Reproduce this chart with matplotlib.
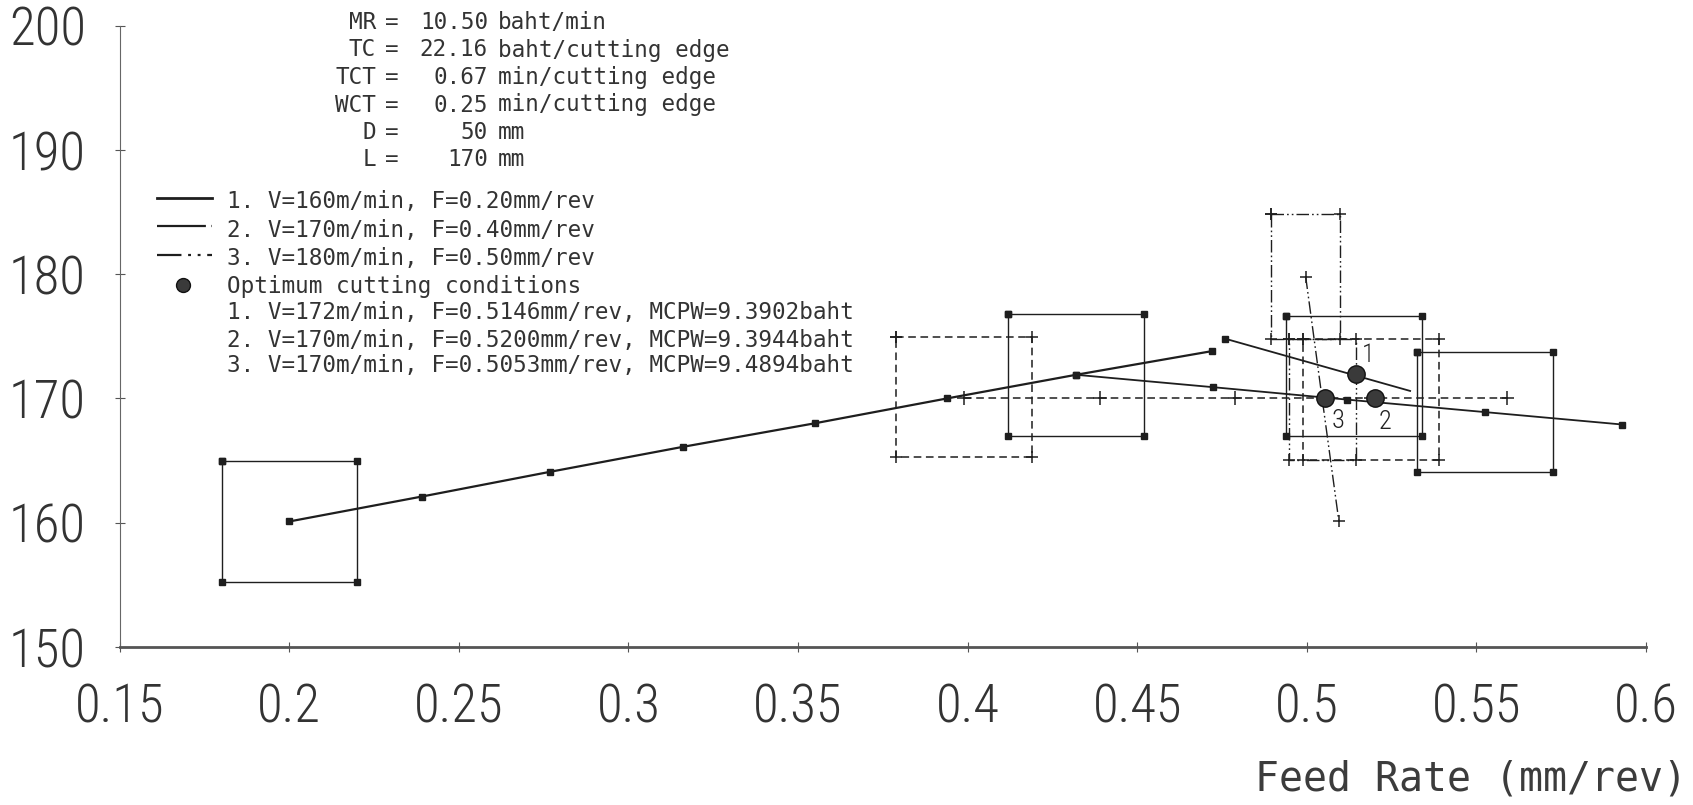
import os
import matplotlib
matplotlib.use('Agg')
import matplotlib.pyplot as plt
from matplotlib import font_manager
from matplotlib.font_manager import FontProperties
from matplotlib.lines import Line2D

# ---------------- data ----------------
x_ticks = [0.15, 0.2, 0.25, 0.3, 0.35, 0.4, 0.45, 0.5, 0.55, 0.6]
x_tick_labels = ['0.15', '0.2', '0.25', '0.3', '0.35', '0.4', '0.45', '0.5', '0.55', '0.6']
y_ticks = [150, 160, 170, 180, 190, 200]
y_tick_labels = ['150', '160', '170', '180', '190', '200']
x_label = 'Feed Rate (mm/rev)'

# series 1 (solid): search paths and 2x2 design boxes
s1_path_F = [0.200, 0.239, 0.277, 0.316, 0.355, 0.394, 0.432, 0.472]
s1_path_V = [160.1, 162.1, 164.1, 166.1, 168.0, 170.0, 171.9, 173.8]
s1_path2_F = [0.432, 0.4725, 0.512, 0.5525, 0.593]
s1_path2_V = [171.9, 170.9, 169.9, 168.9, 167.9]
s1_path3_F = [0.476, 0.5305]
s1_path3_V = [174.8, 170.6]
s1_box_F = [0.200, 0.432, 0.514, 0.5525]
s1_box_V = [160.1, 171.9, 171.8, 168.9]
s1_box_dF = [0.020, 0.020, 0.020, 0.020]
s1_box_dV = [4.9, 4.9, 4.85, 4.85]

# series 2 (dashed)
s2_path_F = [0.399, 0.439, 0.479, 0.519, 0.559]
s2_path_V = [170.0, 170.0, 170.0, 170.0, 170.0]
s2_box_F = [0.399, 0.519]
s2_box_V = [170.1, 169.9]
s2_box_dF = [0.020, 0.020]
s2_box_dV = [4.85, 4.85]

# series 3 (dash-dot-dot)
s3_path_F = [0.4997, 0.5046, 0.5095]
s3_path_V = [179.8, 169.9, 160.1]
s3_box_F = [0.4996, 0.5046]
s3_box_V = [179.8, 169.9]
s3_box_dF = [0.0102, 0.0099]
s3_box_dV = [5.0, 4.85]

# optimum cutting conditions
opt_F = [0.5146, 0.5200, 0.5053]
opt_V = [172, 170, 170]
opt_labels = ['1', '2', '3']

const_names = ['MR', 'TC', 'TCT', 'WCT', 'D', 'L']
const_values = ['10.50', '22.16', '0.67', '0.25', '50', '170']
const_units = ['baht/min', 'baht/cutting edge', 'min/cutting edge',
               'min/cutting edge', 'mm', 'mm']

legend_series = ['1. V=160m/min, F=0.20mm/rev',
                 '2. V=170m/min, F=0.40mm/rev',
                 '3. V=180m/min, F=0.50mm/rev']
legend_opt_title = 'Optimum cutting conditions'
legend_opt_lines = ['1. V=172m/min, F=0.5146mm/rev, MCPW=9.3902baht',
                    '2. V=170m/min, F=0.5200mm/rev, MCPW=9.3944baht',
                    '3. V=170m/min, F=0.5053mm/rev, MCPW=9.4894baht']

# ---------------- styles ----------------
W, H = 1693, 805
INK = '#1e1e1e'
TXT = '#333333'


def find_font(subs):
    for sub in subs:
        for f in font_manager.fontManager.ttflist:
            if os.path.basename(f.fname).lower().startswith(sub.lower()):
                return f.fname
    return None


narrow_path = find_font(['NotoSans-ExtraCondensedLight.', 'NotoSans-CondensedLight.',
                         'RobotoCondensed-Light.', 'LiberationSansNarrow-Regular.',
                         'NotoSans-ExtraCondensed.', 'NotoSans-Condensed.'])
if narrow_path:
    TICK_FP = FontProperties(fname=narrow_path, size=38)
    NUM_FP = FontProperties(fname=narrow_path, size=19)
else:
    TICK_FP = FontProperties(family='DejaVu Sans', stretch='condensed', size=33)
    NUM_FP = FontProperties(family='DejaVu Sans', stretch='condensed', size=17)
MONO = dict(family='DejaVu Sans Mono')
SMALL = 16.3

S2_DASH = (0, (5.0, 3.0))
S3_DASH = (0, (9.0, 2.2, 1.2, 2.2, 1.2, 2.2))


def fx(x):
    return x / W


def fy(y):
    return 1 - y / H


fig = plt.figure(figsize=(W / 100, H / 100), dpi=100)
fig.patch.set_facecolor('white')
ax = fig.add_axes([fx(119.8), fy(647.0), (1645.8 - 119.8) / W, (647.0 - 25.5) / H])
ax.set_xlim(0.15, 0.6)
ax.set_ylim(150, 200)
ax.set_facecolor('white')
for s in ['top', 'right']:
    ax.spines[s].set_visible(False)
ax.spines['left'].set_color('#666666')
ax.spines['left'].set_linewidth(0.8)
ax.spines['bottom'].set_color('#555555')
ax.spines['bottom'].set_linewidth(2.0)

ax.set_xticks(x_ticks)
ax.set_xticklabels(x_tick_labels)
ax.set_yticks(y_ticks)
ax.set_yticklabels(y_tick_labels)
ax.tick_params(axis='both', direction='inout', length=7, width=0.8, color='#555555')
ax.tick_params(axis='x', pad=22)
ax.tick_params(axis='y', pad=21)
for lab in ax.get_xticklabels() + ax.get_yticklabels():
    lab.set_fontproperties(TICK_FP)
    lab.set_color('#333333')


def draw_box(F, V, dF, dV, **kw):
    xs = [F - dF, F + dF, F + dF, F - dF, F - dF]
    ys = [V + dV, V + dV, V - dV, V - dV, V + dV]
    ax.plot(xs, ys, **kw)


# series 1
for F, V, dF, dV in zip(s1_box_F, s1_box_V, s1_box_dF, s1_box_dV):
    draw_box(F, V, dF, dV, color=INK, lw=1.0, marker='s', ms=4, zorder=3)
ax.plot(s1_path_F, s1_path_V, color=INK, lw=1.6, marker='s', ms=4, zorder=4)
ax.plot(s1_path2_F, s1_path2_V, color=INK, lw=1.3, marker='s', ms=4, zorder=4)
ax.plot(s1_path3_F, s1_path3_V, color=INK, lw=1.3, marker='s', ms=4,
        markevery=[0], zorder=4)

# series 2
for F, V, dF, dV in zip(s2_box_F, s2_box_V, s2_box_dF, s2_box_dV):
    draw_box(F, V, dF, dV, color=INK, lw=1.1, linestyle=S2_DASH,
             marker='+', ms=8, mew=1.1, zorder=3)
ax.plot(s2_path_F, s2_path_V, color=INK, lw=1.1, linestyle=S2_DASH,
        marker='+', ms=10, mew=1.1, zorder=4)

# series 3
for F, V, dF, dV in zip(s3_box_F, s3_box_V, s3_box_dF, s3_box_dV):
    draw_box(F, V, dF, dV, color=INK, lw=1.0, linestyle=S3_DASH,
             marker='+', ms=8, mew=1.1, zorder=3)
ax.plot(s3_path_F, s3_path_V, color=INK, lw=1.0, linestyle=S3_DASH,
        marker='+', ms=9, mew=1.1, markevery=[0, 2], zorder=4)

# optimum points
ax.plot(opt_F, opt_V, linestyle='none', marker='o', ms=12.5,
        mfc='#3a3a3a', mec='#111111', mew=1.0, zorder=6)
label_offsets = [(9, 13), (7.5, -17), (9.5, -16)]
for F, V, t, off in zip(opt_F, opt_V, opt_labels, label_offsets):
    ax.annotate(t, (F, V), xytext=off, textcoords='offset points',
                ha='center', va='center', color='#222222', fontproperties=NUM_FP)

# x-axis label
fig.text(fx(1687), fy(790), x_label, ha='right', va='baseline',
         fontsize=28.7, color='#3c3c3c', **MONO)

# constants block
const_y = [21, 48.5, 76, 103.5, 131, 158.5]
for n, v, u, y in zip(const_names, const_values, const_units, const_y):
    yb = fy(y + 8)
    fig.text(fx(376), yb, n, ha='right', va='baseline', fontsize=SMALL, color=TXT, **MONO)
    fig.text(fx(392), yb, '=', ha='center', va='baseline', fontsize=SMALL, color=TXT, **MONO)
    fig.text(fx(488), yb, v, ha='right', va='baseline', fontsize=SMALL, color=TXT, **MONO)
    fig.text(fx(498), yb, u, ha='left', va='baseline', fontsize=SMALL, color=TXT, **MONO)

# legend
leg_y = [200, 228.5, 256.7]
key_styles = [dict(linestyle='-', lw=2.0),
              dict(linestyle=(0, (22, 2.5, 4, 2.5)), lw=1.6),
              dict(linestyle=(0, (11, 3, 1.3, 3, 1.3, 3)), lw=1.6)]
for y, txt, st in zip(leg_y, legend_series, key_styles):
    fig.add_artist(Line2D([fx(157), fx(212)], [fy(y - 2), fy(y - 2)],
                          transform=fig.transFigure, color=INK, **st))
    fig.text(fx(227), fy(y + 8), txt, ha='left', va='baseline', fontsize=SMALL,
             color=TXT, **MONO)
fig.add_artist(Line2D([fx(182.5)], [fy(285)], transform=fig.transFigure,
                      linestyle='none', marker='o', ms=10, mfc='#3a3a3a',
                      mec='#111111'))
fig.text(fx(227), fy(285 + 8), legend_opt_title, ha='left', va='baseline',
         fontsize=SMALL, color=TXT, **MONO)
for y, txt in zip([311.5, 338.5, 364], legend_opt_lines):
    fig.text(fx(227), fy(y + 8), txt, ha='left', va='baseline', fontsize=SMALL,
             color=TXT, **MONO)

fig.savefig('out.png', dpi=100, facecolor='white')
